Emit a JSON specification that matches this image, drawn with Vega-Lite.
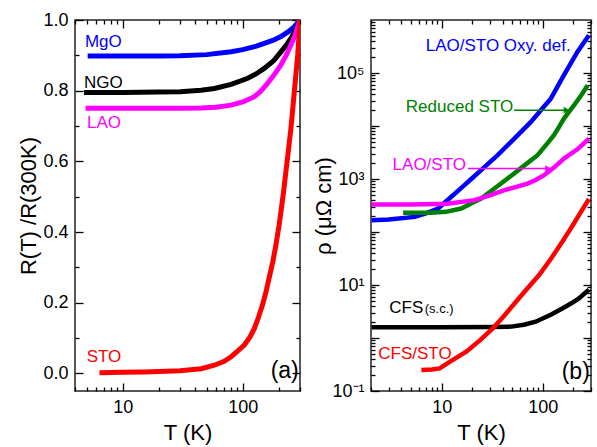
{
  "$schema": "https://vega.github.io/schema/vega-lite/v6.json",
  "background": "white",
  "padding": {"left": 17, "top": 10, "right": 2, "bottom": 2},
  "spacing": 10,
  "config": {
    "font": "Liberation Sans",
    "view": {"stroke": "#222222", "strokeWidth": 1.5},
    "axis": {
      "domain": false, "grid": false,
      "tickColor": "#000000", "tickWidth": 1.3,
      "labelFont": "Liberation Sans", "labelFontSize": 18, "labelColor": "black", "labelPadding": 15,
      "titleFont": "Liberation Sans", "titleFontSize": 22, "titleFontWeight": "normal", "titleColor": "black", "titlePadding": 2,
      "labelOverlap": false
    },
    "text": {"font": "Liberation Sans"}
  },
  "resolve": {"scale": {"color": "independent"}},
  "datasets": {
    "left": [
      {"s":"MgO","T":5.1,"R":0.898},{"s":"MgO","T":7,"R":0.898},{"s":"MgO","T":10,"R":0.898},{"s":"MgO","T":20,"R":0.898},{"s":"MgO","T":30,"R":0.899},{"s":"MgO","T":50,"R":0.902},{"s":"MgO","T":80,"R":0.910},{"s":"MgO","T":100,"R":0.916},{"s":"MgO","T":130,"R":0.926},{"s":"MgO","T":151,"R":0.934},{"s":"MgO","T":180,"R":0.943},{"s":"MgO","T":208,"R":0.953},{"s":"MgO","T":240,"R":0.967},{"s":"MgO","T":269,"R":0.981},{"s":"MgO","T":300,"R":1.0},
      {"s":"NGO","T":4.75,"R":0.795},{"s":"NGO","T":7,"R":0.795},{"s":"NGO","T":10,"R":0.795},{"s":"NGO","T":20,"R":0.796},{"s":"NGO","T":30,"R":0.797},{"s":"NGO","T":45,"R":0.801},{"s":"NGO","T":58,"R":0.806},{"s":"NGO","T":80,"R":0.818},{"s":"NGO","T":110,"R":0.835},{"s":"NGO","T":130,"R":0.848},{"s":"NGO","T":151,"R":0.863},{"s":"NGO","T":180,"R":0.884},{"s":"NGO","T":208,"R":0.910},{"s":"NGO","T":230,"R":0.928},{"s":"NGO","T":252,"R":0.948},{"s":"NGO","T":270,"R":0.966},{"s":"NGO","T":287,"R":0.985},{"s":"NGO","T":300,"R":1.0},
      {"s":"LAO","T":4.9,"R":0.75},{"s":"LAO","T":10,"R":0.75},{"s":"LAO","T":20,"R":0.75},{"s":"LAO","T":30,"R":0.750},{"s":"LAO","T":45,"R":0.751},{"s":"LAO","T":60,"R":0.753},{"s":"LAO","T":80,"R":0.759},{"s":"LAO","T":100,"R":0.768},{"s":"LAO","T":125,"R":0.783},{"s":"LAO","T":140,"R":0.797},{"s":"LAO","T":157,"R":0.816},{"s":"LAO","T":180,"R":0.842},{"s":"LAO","T":208,"R":0.873},{"s":"LAO","T":230,"R":0.900},{"s":"LAO","T":252,"R":0.929},{"s":"LAO","T":270,"R":0.953},{"s":"LAO","T":287,"R":0.980},{"s":"LAO","T":300,"R":1.0},
      {"s":"STO","T":6.4,"R":0.002},{"s":"STO","T":10,"R":0.003},{"s":"STO","T":15,"R":0.004},{"s":"STO","T":20,"R":0.005},{"s":"STO","T":30,"R":0.007},{"s":"STO","T":45,"R":0.013},{"s":"STO","T":58,"R":0.023},{"s":"STO","T":70,"R":0.034},{"s":"STO","T":80,"R":0.047},{"s":"STO","T":90,"R":0.062},{"s":"STO","T":103,"R":0.08},{"s":"STO","T":115,"R":0.103},{"s":"STO","T":125,"R":0.127},{"s":"STO","T":135,"R":0.158},{"s":"STO","T":146,"R":0.193},{"s":"STO","T":156,"R":0.23},{"s":"STO","T":166,"R":0.27},{"s":"STO","T":178,"R":0.316},{"s":"STO","T":189,"R":0.363},{"s":"STO","T":200,"R":0.415},{"s":"STO","T":208,"R":0.457},{"s":"STO","T":220,"R":0.52},{"s":"STO","T":229,"R":0.571},{"s":"STO","T":240,"R":0.63},{"s":"STO","T":252,"R":0.693},{"s":"STO","T":260,"R":0.742},{"s":"STO","T":269,"R":0.797},{"s":"STO","T":278,"R":0.85},{"s":"STO","T":287,"R":0.901},{"s":"STO","T":295,"R":0.96},{"s":"STO","T":300,"R":1.0}
    ],
    "leftLabels": [
      {"s":"MgO","T":4.84,"R":0.924,"label":"MgO"},
      {"s":"NGO","T":4.75,"R":0.808,"label":"NGO"},
      {"s":"LAO","T":5.03,"R":0.695,"label":"LAO"},
      {"s":"STO","T":5.0,"R":0.033,"label":"STO"}
    ],
    "right": [
      {"s":"Oxy","T":2.03,"rho":167},{"s":"Oxy","T":3,"rho":172},{"s":"Oxy","T":5.42,"rho":193},{"s":"Oxy","T":7,"rho":224},{"s":"Oxy","T":9.2,"rho":277},{"s":"Oxy","T":12,"rho":434},{"s":"Oxy","T":16.8,"rho":766},{"s":"Oxy","T":20,"rho":1035},{"s":"Oxy","T":25,"rho":1517},{"s":"Oxy","T":35.8,"rho":2812},{"s":"Oxy","T":50,"rho":5300},{"s":"Oxy","T":76.3,"rho":11940},{"s":"Oxy","T":100,"rho":21900},{"s":"Oxy","T":120,"rho":32890},{"s":"Oxy","T":162,"rho":90780},{"s":"Oxy","T":220,"rho":249500},{"s":"Oxy","T":286,"rho":515200},
      {"s":"Red","T":4.16,"rho":230},{"s":"Red","T":7.9,"rho":230},{"s":"Red","T":11,"rho":240},{"s":"Red","T":15.6,"rho":277},{"s":"Red","T":20,"rho":351},{"s":"Red","T":24.6,"rho":428},{"s":"Red","T":33,"rho":654},{"s":"Red","T":44.9,"rho":1019},{"s":"Red","T":60,"rho":1570},{"s":"Red","T":88.7,"rho":2812},{"s":"Red","T":110,"rho":4610},{"s":"Red","T":129,"rho":6699},{"s":"Red","T":145,"rho":9620},{"s":"Red","T":162,"rho":13800},{"s":"Red","T":204,"rho":24660},{"s":"Red","T":240,"rho":38020},{"s":"Red","T":278,"rho":58750},
      {"s":"LAOSTO","T":2.03,"rho":330},{"s":"LAOSTO","T":5,"rho":330},{"s":"LAOSTO","T":11.5,"rho":340},{"s":"LAOSTO","T":21.1,"rho":399},{"s":"LAOSTO","T":30,"rho":490},{"s":"LAOSTO","T":41.7,"rho":617},{"s":"LAOSTO","T":55,"rho":708},{"s":"LAOSTO","T":70.7,"rho":820},{"s":"LAOSTO","T":85,"rho":955},{"s":"LAOSTO","T":103,"rho":1180},{"s":"LAOSTO","T":130,"rho":1660},{"s":"LAOSTO","T":162,"rho":2427},{"s":"LAOSTO","T":220,"rho":3630},{"s":"LAOSTO","T":286,"rho":5750},
      {"s":"CFS","T":2.03,"rho":1.6},{"s":"CFS","T":10,"rho":1.6},{"s":"CFS","T":30,"rho":1.61},{"s":"CFS","T":49,"rho":1.64},{"s":"CFS","T":65,"rho":1.78},{"s":"CFS","T":85,"rho":2.03},{"s":"CFS","T":120,"rho":2.75},{"s":"CFS","T":156,"rho":3.61},{"s":"CFS","T":190,"rho":4.47},{"s":"CFS","T":228,"rho":5.57},{"s":"CFS","T":286,"rho":8.2},
      {"s":"CFSSTO","T":6.3,"rho":0.249},{"s":"CFSSTO","T":8,"rho":0.255},{"s":"CFSSTO","T":9.55,"rho":0.267},{"s":"CFSSTO","T":12,"rho":0.355},{"s":"CFSSTO","T":17.5,"rho":0.551},{"s":"CFSSTO","T":24,"rho":0.912},{"s":"CFSSTO","T":32,"rho":1.514},{"s":"CFSSTO","T":42,"rho":2.69},{"s":"CFSSTO","T":54.3,"rho":4.83},{"s":"CFSSTO","T":70,"rho":8.51},{"s":"CFSSTO","T":92,"rho":15.4},{"s":"CFSSTO","T":120,"rho":30.9},{"s":"CFSSTO","T":156,"rho":65.3},{"s":"CFSSTO","T":190,"rho":117.5},{"s":"CFSSTO","T":228,"rho":208},{"s":"CFSSTO","T":286,"rho":420}
    ],
    "rightLabels": [
      {"s":"Oxy","T":6.96,"rho":257000,"label":"LAO/STO Oxy. def."},
      {"s":"Red","T":4.42,"rho":18500,"label":"Reduced STO"},
      {"s":"LAOSTO","T":3.27,"rho":1469,"label":"LAO/STO"},
      {"s":"CFS","T":3.03,"rho":2.9,"label":"CFS"},
      {"s":"CFSSTO","T":2.36,"rho":0.40,"label":"CFS/STO"}
    ],
    "arrows": [
      {"s":"Red","T":52,"T2":172,"rho":19860},
      {"s":"LAOSTO","T":18.2,"T2":113,"rho":1574}
    ]
  },
  "hconcat": [
    {
      "width": 225, "height": 371,
      "resolve": {"axis": {"x": "independent", "y": "independent"}},
      "layer": [
        {
          "data": {"name": "left"},
          "mark": {"type": "line", "strokeWidth": 5, "clip": true},
          "encoding": {
            "x": {"field": "T", "type": "quantitative", "scale": {"type": "log", "domain": [4, 300]},
                  "axis": {"orient": "bottom", "title": "T (K)", "values": [4,5,6,7,8,9,10,20,30,40,50,60,70,80,90,100,200,300],
                           "labelExpr": "datum.value==10?'10':datum.value==100?'100':''",
                           "tickSize": {"condition": {"test": "datum.value==10||datum.value==100", "value": -8}, "value": -4}}},
            "y": {"field": "R", "type": "quantitative", "scale": {"domain": [-0.05, 1.0]},
                  "axis": {"orient": "left", "title": "R(T) /R(300K)", "values": [0,0.1,0.2,0.3,0.4,0.5,0.6,0.7,0.8,0.9,1.0],
                           "labelExpr": "round(datum.value*10)%2==0?format(datum.value,'.1f'):''",
                           "tickSize": {"condition": {"test": "round(datum.value*10)%2==0", "value": -8}, "value": -4}}},
            "color": {"field": "s", "type": "nominal", "scale": {"domain": ["MgO","NGO","LAO","STO"], "range": ["#0000ff","#000000","#ff00ff","#ff0000"]}, "legend": null}
          }
        },
        {
          "data": {"name": "leftLabels"},
          "mark": {"type": "text", "align": "left", "baseline": "alphabetic", "fontSize": 17},
          "encoding": {
            "x": {"field": "T", "type": "quantitative", "scale": {"type": "log", "domain": [4, 300]},
                  "axis": {"orient": "top", "title": null, "labels": false, "values": [4,5,6,7,8,9,10,20,30,40,50,60,70,80,90,100,200,300],
                           "tickSize": {"condition": {"test": "datum.value==10||datum.value==100", "value": -8}, "value": -4}}},
            "y": {"field": "R", "type": "quantitative", "scale": {"domain": [-0.05, 1.0]},
                  "axis": {"orient": "right", "title": null, "labels": false, "values": [0,0.1,0.2,0.3,0.4,0.5,0.6,0.7,0.8,0.9,1.0],
                           "tickSize": {"condition": {"test": "round(datum.value*10)%2==0", "value": -8}, "value": -4}}},
            "text": {"field": "label"},
            "color": {"field": "s", "type": "nominal", "legend": null}
          }
        },
        {
          "data": {"values": [{"T": 293, "R": -0.014, "label": "(a)"}]},
          "mark": {"type": "text", "align": "right", "baseline": "alphabetic", "fontSize": 23, "color": "black"},
          "encoding": {
            "x": {"field": "T", "type": "quantitative", "scale": {"type": "log", "domain": [4, 300]}, "axis": null},
            "y": {"field": "R", "type": "quantitative", "scale": {"domain": [-0.05, 1.0]}, "axis": null},
            "text": {"field": "label"}
          }
        }
      ]
    },
    {
      "width": 220, "height": 371,
      "resolve": {"axis": {"x": "independent", "y": "independent"}},
      "layer": [
        {
          "data": {"name": "right"},
          "mark": {"type": "line", "strokeWidth": 4.5, "clip": true},
          "encoding": {
            "x": {"field": "T", "type": "quantitative", "scale": {"type": "log", "domain": [2, 300]},
                  "axis": {"orient": "bottom", "title": "T (K)", "values": [2,3,4,5,6,7,8,9,10,20,30,40,50,60,70,80,90,100,200,300],
                           "labelExpr": "datum.value==10?'10':datum.value==100?'100':''",
                           "tickSize": {"condition": {"test": "datum.value==10||datum.value==100", "value": -8}, "value": -4}}},
            "y": {"field": "rho", "type": "quantitative", "scale": {"type": "log", "domain": [0.1, 1000000]},
                  "axis": {"orient": "left", "title": "ρ (μΩ cm)", "titlePadding": -4,
                           "values": [0.1,0.2,0.3,0.4,0.5,0.6,0.7,0.8,0.9,1,2,3,4,5,6,7,8,9,10,20,30,40,50,60,70,80,90,100,200,300,400,500,600,700,800,900,1000,2000,3000,4000,5000,6000,7000,8000,9000,10000,20000,30000,40000,50000,60000,70000,80000,90000,100000,200000,300000,400000,500000,600000,700000,800000,900000],
                           "labelExpr": "datum.value==100000?'10⁵':datum.value==1000?'10³':datum.value==10?'10¹':datum.value==0.1?'10⁻¹':''",
                           "tickSize": {"condition": {"test": "datum.value==0.1||datum.value==1||datum.value==10||datum.value==100||datum.value==1000||datum.value==10000||datum.value==100000", "value": -8}, "value": -4}}},
            "color": {"field": "s", "type": "nominal", "scale": {"domain": ["Oxy","Red","LAOSTO","CFS","CFSSTO"], "range": ["#0000ff","#008000","#ff00ff","#000000","#ff0000"]}, "legend": null}
          }
        },
        {
          "data": {"name": "rightLabels"},
          "mark": {"type": "text", "align": "left", "baseline": "alphabetic", "fontSize": 17},
          "encoding": {
            "x": {"field": "T", "type": "quantitative", "scale": {"type": "log", "domain": [2, 300]},
                  "axis": {"orient": "top", "title": null, "labels": false, "values": [2,3,4,5,6,7,8,9,10,20,30,40,50,60,70,80,90,100,200,300],
                           "tickSize": {"condition": {"test": "datum.value==10||datum.value==100", "value": -8}, "value": -4}}},
            "y": {"field": "rho", "type": "quantitative", "scale": {"type": "log", "domain": [0.1, 1000000]},
                  "axis": {"orient": "right", "title": null, "labels": false,
                           "values": [0.1,0.2,0.3,0.4,0.5,0.6,0.7,0.8,0.9,1,2,3,4,5,6,7,8,9,10,20,30,40,50,60,70,80,90,100,200,300,400,500,600,700,800,900,1000,2000,3000,4000,5000,6000,7000,8000,9000,10000,20000,30000,40000,50000,60000,70000,80000,90000,100000,200000,300000,400000,500000,600000,700000,800000,900000],
                           "tickSize": {"condition": {"test": "datum.value==0.1||datum.value==1||datum.value==10||datum.value==100||datum.value==1000||datum.value==10000||datum.value==100000", "value": -8}, "value": -4}}},
            "text": {"field": "label"},
            "color": {"field": "s", "type": "nominal", "legend": null}
          }
        },
        {
          "data": {"name": "arrows"},
          "mark": {"type": "rule", "strokeWidth": 1.5},
          "encoding": {
            "x": {"field": "T", "type": "quantitative", "scale": {"type": "log", "domain": [2, 300]}, "axis": null},
            "x2": {"field": "T2"},
            "y": {"field": "rho", "type": "quantitative", "scale": {"type": "log", "domain": [0.1, 1000000]}, "axis": null},
            "color": {"field": "s", "type": "nominal", "legend": null}
          }
        },
        {
          "data": {"name": "arrows"},
          "mark": {"type": "point", "shape": "triangle-right", "filled": true, "size": 45, "opacity": 1},
          "encoding": {
            "x": {"field": "T2", "type": "quantitative", "scale": {"type": "log", "domain": [2, 300]}, "axis": null},
            "y": {"field": "rho", "type": "quantitative", "scale": {"type": "log", "domain": [0.1, 1000000]}, "axis": null},
            "color": {"field": "s", "type": "nominal", "legend": null}
          }
        },
        {
          "data": {"values": [{"T": 6.8, "rho": 2.9, "label": "(s.c.)"}]},
          "mark": {"type": "text", "align": "left", "baseline": "alphabetic", "fontSize": 13, "color": "black"},
          "encoding": {
            "x": {"field": "T", "type": "quantitative", "scale": {"type": "log", "domain": [2, 300]}, "axis": null},
            "y": {"field": "rho", "type": "quantitative", "scale": {"type": "log", "domain": [0.1, 1000000]}, "axis": null},
            "text": {"field": "label"}
          }
        },
        {
          "data": {"values": [{"T": 292, "rho": 0.168, "label": "(b)"}]},
          "mark": {"type": "text", "align": "right", "baseline": "alphabetic", "fontSize": 23, "color": "black"},
          "encoding": {
            "x": {"field": "T", "type": "quantitative", "scale": {"type": "log", "domain": [2, 300]}, "axis": null},
            "y": {"field": "rho", "type": "quantitative", "scale": {"type": "log", "domain": [0.1, 1000000]}, "axis": null},
            "text": {"field": "label"}
          }
        }
      ]
    }
  ]
}
